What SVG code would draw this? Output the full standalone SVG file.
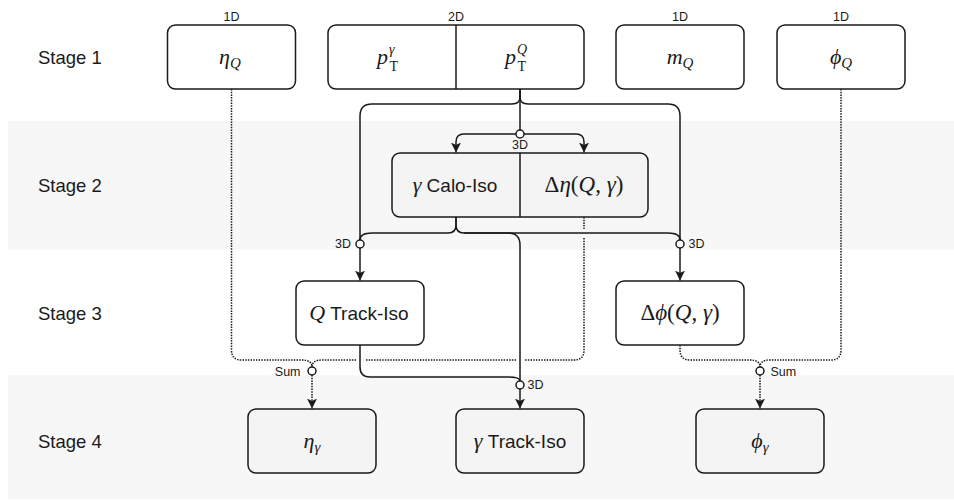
<svg xmlns="http://www.w3.org/2000/svg" width="954" height="501" viewBox="0 0 954 501">
<defs>
<style>
.band{fill:#f7f7f7;stroke:none}
.box{fill:#ffffff;stroke:#1a1a1a;stroke-width:1.5}
.gbox{fill:#f4f4f4;stroke:#1a1a1a;stroke-width:1.5}
.div{stroke:#1a1a1a;stroke-width:1.5;fill:none}
.ln{fill:none;stroke:#1a1a1a;stroke-width:1.5}
.dt{fill:none;stroke:#1a1a1a;stroke-width:1.5;stroke-dasharray:1.5 1.2}
.jc{fill:#ffffff;stroke:#1a1a1a;stroke-width:1.5}
.stage{font-family:"Liberation Sans",Arial,sans-serif;font-size:18.5px;fill:#1a1a1a}
.lbl{font-family:"Liberation Sans",Arial,sans-serif;font-size:12.5px;fill:#1a1a1a}
.m{font-family:"Liberation Serif","DejaVu Serif",serif;font-style:italic;font-size:22px;fill:#1a1a1a}
.m2{font-family:"Liberation Serif","DejaVu Serif",serif;font-style:italic;font-size:23px;fill:#1a1a1a}
.s{font-size:15px}
.ss{font-size:14px}
.up{font-style:normal}
.sans{font-family:"Liberation Sans",Arial,sans-serif;font-style:normal;font-size:19px}
</style>
<marker id="arr" markerUnits="userSpaceOnUse" viewBox="0 0 10 10" refX="10" refY="5" markerWidth="10" markerHeight="10" orient="auto">
<path d="M0,0 L10,5 L0,10 L2.5,5 Z" fill="#1a1a1a"/>
</marker>
</defs>

<g id="bands">
<rect class="band" x="8" y="121" width="946" height="128.5"/>
<rect class="band" x="8" y="375" width="946" height="124"/>
</g>

<g id="stage-labels">
<text class="stage" x="38" y="57" dominant-baseline="central">Stage 1</text>
<text class="stage" x="38" y="185" dominant-baseline="central">Stage 2</text>
<text class="stage" x="38" y="313" dominant-baseline="central">Stage 3</text>
<text class="stage" x="38" y="441" dominant-baseline="central">Stage 4</text>
</g>

<g id="connectors">
<!-- solid -->
<path class="ln" d="M520,89 V97 Q520,104 512,104 H372 Q360,104 360,116 V240"/>
<path class="ln" d="M520,89 V97 Q520,104 528,104 H668 Q680,104 680,116 V240"/>
<path class="ln" d="M520,89 V130"/>
<path class="ln" d="M516,134 H464 Q456,134 456,142 V152.5" marker-end="url(#arr)"/>
<path class="ln" d="M524,134 H576 Q584,134 584,142 V152.5" marker-end="url(#arr)"/>
<path class="ln" d="M360,248 V280.5" marker-end="url(#arr)"/>
<path class="ln" d="M680,248 V280.5" marker-end="url(#arr)"/>
<path class="ln" d="M456,217 V225 Q456,233 448,233 H372 Q360,233 360,240"/>
<path class="ln" d="M456,217 V225 Q456,233 464,233 H668 Q680,233 680,240"/>
<path class="ln" d="M464,233 H508 Q520,233 520,245 V381"/>
<path class="ln" d="M360,345 V367 Q360,377 370,377 H508 Q520,377 520,381"/>
<path class="ln" d="M520,389 V408.5" marker-end="url(#arr)"/>
<!-- dotted -->
<path class="dt" d="M231.5,89 V350 Q231.5,360 241.5,360 H302 Q312,360 312,367"/>
<path class="dt" d="M584,217 V229 M584,238 V350 Q584,360 574,360 H525 M516,360 H365 M356,360 H322 Q312,360 312,367"/>
<path class="dt" d="M312,375 V408.5" marker-end="url(#arr)"/>
<path class="dt" d="M680,345 V350 Q680,360 690,360 H750 Q760,360 760,367"/>
<path class="dt" d="M841,89 V350 Q841,360 831,360 H770 Q760,360 760,367"/>
<path class="dt" d="M760,375 V408.5" marker-end="url(#arr)"/>
<!-- junctions -->
<circle class="jc" cx="520" cy="134" r="4"/>
<circle class="jc" cx="360" cy="244" r="4"/>
<circle class="jc" cx="680" cy="244" r="4"/>
<circle class="jc" cx="520" cy="385" r="4"/>
<circle class="jc" cx="312" cy="371" r="4"/>
<circle class="jc" cx="760" cy="371" r="4"/>
<!-- labels -->
<text class="lbl" x="520" y="144.5" text-anchor="middle" dominant-baseline="central">3D</text>
<text class="lbl" x="351" y="244" text-anchor="end" dominant-baseline="central">3D</text>
<text class="lbl" x="688.5" y="244" dominant-baseline="central">3D</text>
<text class="lbl" x="527.5" y="385" dominant-baseline="central">3D</text>
<text class="lbl" x="300.5" y="371.5" text-anchor="end" dominant-baseline="central">Sum</text>
<text class="lbl" x="770.5" y="371.5" dominant-baseline="central">Sum</text>
</g>

<g id="node-etaQ">
<text class="lbl" x="231.5" y="16.5" text-anchor="middle" dominant-baseline="central">1D</text>
<rect class="box" x="167.5" y="25" width="128" height="64" rx="8"/>
<text class="m" x="230" y="64" text-anchor="middle">η<tspan class="s" dy="4">Q</tspan></text>
</g>

<g id="node-pT">
<text class="lbl" x="456" y="16.5" text-anchor="middle" dominant-baseline="central">2D</text>
<rect class="box" x="328" y="25" width="256" height="64" rx="8"/>
<line class="div" x1="456" y1="25" x2="456" y2="89"/>
<text class="m" x="377" y="64">p</text>
<text class="m ss" x="389" y="54">γ</text>
<text class="m ss up" x="389.5" y="70.5">T</text>
<text class="m" x="505" y="64">p</text>
<text class="m ss" x="517" y="53.5">Q</text>
<text class="m ss up" x="517.5" y="70.5">T</text>
</g>

<g id="node-mQ">
<text class="lbl" x="680" y="16.5" text-anchor="middle" dominant-baseline="central">1D</text>
<rect class="box" x="616" y="25" width="128" height="64" rx="8"/>
<text class="m" x="680" y="64" text-anchor="middle">m<tspan class="s" dy="4">Q</tspan></text>
</g>

<g id="node-phiQ">
<text class="lbl" x="841" y="16.5" text-anchor="middle" dominant-baseline="central">1D</text>
<rect class="box" x="777" y="25" width="128" height="64" rx="8"/>
<text class="m" x="841" y="64" text-anchor="middle">ϕ<tspan class="s" dy="4">Q</tspan></text>
</g>

<g id="node-stage2">
<rect class="gbox" x="392" y="153" width="256" height="64" rx="8"/>
<line class="div" x1="520" y1="153" x2="520" y2="217"/>
<text class="m" x="455" y="192" text-anchor="middle">γ<tspan class="sans"> Calo-Iso</tspan></text>
<text class="m2" x="584" y="192" text-anchor="middle"><tspan class="up">Δ</tspan>η<tspan class="up">(</tspan>Q<tspan class="up">, </tspan>γ<tspan class="up">)</tspan></text>
</g>

<g id="node-QTrackIso">
<rect class="box" x="296" y="281" width="128" height="64" rx="8"/>
<text class="m" x="359" y="320" text-anchor="middle">Q<tspan class="sans"> Track-Iso</tspan></text>
</g>

<g id="node-dphi">
<rect class="box" x="616" y="281" width="128" height="64" rx="8"/>
<text class="m2" x="680" y="320" text-anchor="middle"><tspan class="up">Δ</tspan>ϕ<tspan class="up">(</tspan>Q<tspan class="up">, </tspan>γ<tspan class="up">)</tspan></text>
</g>

<g id="node-etagamma">
<rect class="gbox" x="248" y="409" width="128" height="64" rx="8"/>
<text class="m" x="312" y="448" text-anchor="middle">η<tspan class="s" dy="4">γ</tspan></text>
</g>

<g id="node-gTrackIso">
<rect class="gbox" x="456" y="409" width="128" height="64" rx="8"/>
<text class="m" x="520" y="448" text-anchor="middle">γ<tspan class="sans"> Track-Iso</tspan></text>
</g>

<g id="node-phigamma">
<rect class="gbox" x="696" y="409" width="128" height="64" rx="8"/>
<text class="m" x="760" y="448" text-anchor="middle">ϕ<tspan class="s" dy="4">γ</tspan></text>
</g>
</svg>
